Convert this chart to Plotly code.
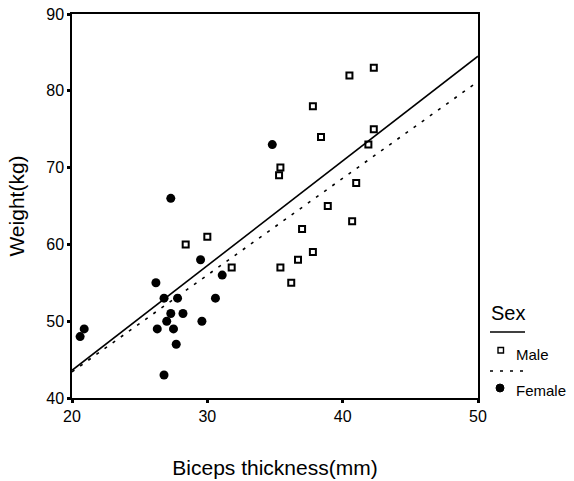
import plotly.graph_objects as go

# Data
male_x = [28.4, 30.0, 31.8, 41.0, 38.9, 40.7, 37.0, 37.8, 36.7, 35.4, 36.2,
          42.3, 40.5, 37.8, 38.4, 42.3, 41.9, 35.4, 35.3]
male_y = [60, 61, 57, 68, 65, 63, 62, 59, 58, 57, 55,
          83, 82, 78, 74, 75, 73, 70, 69]

female_x = [27.3, 29.5, 31.1, 26.2, 26.8, 27.8, 30.6, 27.3, 28.2, 27.0, 29.6,
            26.3, 27.5, 27.7, 26.8, 20.6, 20.9, 34.8]
female_y = [66, 58, 56, 55, 53, 53, 53, 51, 51, 50, 50,
            49, 49, 47, 43, 48, 49, 73]

fit_x = [20, 50]
male_fit_y = [43.6, 84.5]
female_fit_y = [43.4, 81.2]

x_ticks = [20, 30, 40, 50]
y_ticks = [40, 50, 60, 70, 80, 90]

FONT = "Liberation Sans, Arial, sans-serif"
TICKFONT = "Liberation Sans Narrow, Arial Narrow, Liberation Sans, sans-serif"

W, H = 574, 481
ML, MR, MT, MB = 72, 96, 14, 83

fig = go.Figure()
fig.add_trace(go.Scatter(x=fit_x, y=male_fit_y, mode="lines",
                         line=dict(color="black", width=1.6), name="Male fit",
                         showlegend=False))
fig.add_trace(go.Scatter(x=fit_x, y=female_fit_y, mode="lines",
                         line=dict(color="black", width=1.6, dash="3px,7px"),
                         name="Female fit", showlegend=False))
fig.add_trace(go.Scatter(x=male_x, y=male_y, mode="markers", name="Male",
                         marker=dict(symbol="square-open", size=6, color="black",
                                     line=dict(width=2, color="black")),
                         showlegend=False))
fig.add_trace(go.Scatter(x=female_x, y=female_y, mode="markers", name="Female",
                         marker=dict(symbol="circle", size=9, color="black"),
                         showlegend=False))

axis_common = dict(showgrid=False, zeroline=False,
                   showline=True, mirror=True, linecolor="black", linewidth=1.5,
                   ticks="outside", ticklen=3, tickwidth=2.5, tickcolor="black",
                   automargin=False, ticklabeloverflow="allow",
                   tickfont=dict(family=TICKFONT, size=16))

fig.update_layout(
    width=W, height=H,
    margin=dict(l=ML, r=MR, t=MT, b=MB, autoexpand=False),
    paper_bgcolor="white", plot_bgcolor="white",
    font=dict(family=FONT, color="black", size=14),
    xaxis=dict(range=[20, 50], tickvals=x_ticks, **axis_common,
               title=dict(text="Biceps thickness(mm)", font=dict(size=21), standoff=36)),
    yaxis=dict(range=[40, 90], tickvals=y_ticks, **axis_common,
               title=dict(text="Weight(kg)", font=dict(size=21), standoff=16)),
)

# helpers: page pixel -> paper coords
def px(xp):
    return (xp - ML) / (W - ML - MR)
def py(yp):
    return (H - MB - yp) / (H - MT - MB)

fig.add_annotation(x=px(489), y=py(313), xref="paper", yref="paper", text="Sex",
                   showarrow=False, xanchor="left", yanchor="middle",
                   font=dict(size=20))
fig.add_shape(type="line", xref="paper", yref="paper",
              x0=px(490), x1=px(525), y0=py(332), y1=py(332),
              line=dict(color="black", width=1.3))
fig.add_shape(type="rect", xref="paper", yref="paper",
              x0=px(498), x1=px(503.5), y0=py(347.5), y1=py(353),
              line=dict(color="black", width=1.4), fillcolor="white")
fig.add_annotation(x=px(514), y=py(354), xref="paper", yref="paper", text="Male",
                   showarrow=False, xanchor="left", yanchor="middle",
                   font=dict(size=15))
fig.add_shape(type="line", xref="paper", yref="paper",
              x0=px(490), x1=px(525), y0=py(371), y1=py(371),
              line=dict(color="black", width=1.3, dash="3px,7px"))
fig.add_shape(type="circle", xref="paper", yref="paper",
              x0=px(496), x1=px(504), y0=py(384), y1=py(392),
              line=dict(color="black", width=1), fillcolor="black")
fig.add_annotation(x=px(514), y=py(390), xref="paper", yref="paper", text="Female",
                   showarrow=False, xanchor="left", yanchor="middle",
                   font=dict(size=15))

fig.write_html("out.html", config={"displayModeBar": False},
               post_script="document.body.style.margin='0';document.body.style.overflow='hidden';")
